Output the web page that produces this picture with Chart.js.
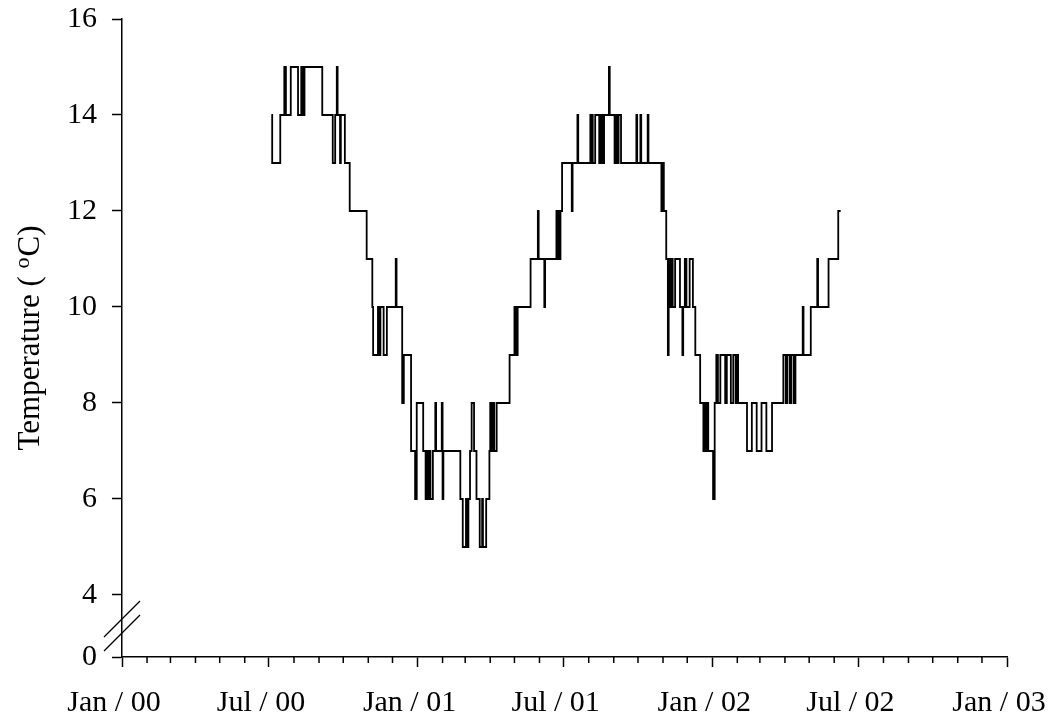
<!DOCTYPE html>
<html>
<head>
<meta charset="utf-8">
<script src="https://cdn.jsdelivr.net/npm/chart.js@4/dist/chart.umd.min.js"></script>
<style>
  body { margin: 0; background: #fff; }
  #wrap { width: 1052px; height: 717px; }
</style>
</head>
<body>
<div id="wrap"><canvas id="grafica-temp"></canvas></div>
<script>
// day (counted from 1 Jan 2000) on which the reading changes, and the reading from then on
const dias = [
  185, 186, 196, 201, 203, 209, 218, 222, 224, 226, 248, 261, 264, 266, 267, 270, 271, 276, 282, 303,
  310, 311, 317, 318, 320, 324, 328, 339, 340, 347, 349, 358, 363, 365, 373, 376, 378, 379, 381, 382,
  385, 388, 389, 396, 397, 398, 419, 422, 426, 427, 429, 431, 433, 436, 439, 443, 446, 447, 451, 455,
  456, 457, 459, 461, 464, 480, 486, 487, 488, 489, 490, 506, 515, 516, 523, 524, 538, 539, 541, 542,
  543, 545, 557, 558, 564, 565, 580, 581, 582, 583, 586, 591, 593, 595, 597, 603, 604, 610, 612, 613,
  615, 618, 637, 638, 642, 643, 651, 652, 668, 669, 671, 674, 676, 677, 679, 680, 682, 685, 691, 694,
  695, 697, 699, 703, 707, 710, 716, 720, 721, 723, 724, 726, 732, 734, 736, 738, 741, 747, 749, 754,
  757, 760, 761, 763, 774, 780, 786, 792, 798, 805, 819, 822, 824, 827, 829, 832, 834, 843, 844, 853,
  861, 862, 875, 887, 890
];
const temps = [
  14, 13, 14, 15, 14, 15, 14, 15, 14, 15, 14, 13, 14, 15, 14, 13, 14, 13, 12, 11,
  10, 9, 10, 9, 10, 9, 10, 11, 10, 8, 9, 7, 6, 8, 7, 6, 7, 6, 7, 6,
  7, 8, 7, 8, 6, 7, 6, 5, 6, 5, 6, 7, 8, 7, 6, 5, 6, 5, 6, 7,
  8, 7, 8, 7, 8, 9, 10, 9, 10, 9, 10, 11, 12, 11, 10, 11, 12, 11, 12, 11,
  12, 13, 12, 13, 14, 13, 14, 13, 14, 13, 14, 13, 14, 13, 14, 15, 14, 13, 14, 13,
  14, 13, 14, 13, 14, 13, 14, 13, 12, 13, 12, 11, 9, 11, 10, 11, 10, 11, 10, 9,
  10, 11, 10, 11, 10, 9, 8, 7, 8, 7, 8, 7, 6, 8, 9, 8, 9, 8, 9, 8,
  9, 8, 9, 8, 7, 8, 7, 8, 7, 8, 9, 8, 9, 8, 9, 8, 9, 10, 9, 10,
  11, 10, 11, 12, 12
];

const etiquetasMes = ['Jan / 00', 'Jul / 00', 'Jan / 01', 'Jul / 01', 'Jan / 02', 'Jul / 02', 'Jan / 03'];
const ticksY = [4, 6, 8, 10, 12, 14, 16];
const baseY = 0;          // shown below the axis break
const minY = 2.7083;      // where the broken axis bottoms out

// first day of every month, Jan 2000 .. Jan 2003
const inicioMes = [];
for (let m = 0; m <= 36; m++) {
  inicioMes.push((Date.UTC(2000, m, 1) - Date.UTC(2000, 0, 1)) / 86400000);
}

const fuente = "'Liberation Serif', 'Times New Roman', serif";
Chart.defaults.font.family = fuente;
Chart.defaults.font.size = 30;
Chart.defaults.color = '#000';

const extras = {
  id: 'extras',
  afterDraw(chart) {
    const { ctx, scales: { x, y } } = chart;
    ctx.save();
    ctx.strokeStyle = '#000';
    ctx.lineWidth = 1.5;

    // minor month ticks
    inicioMes.forEach((d, i) => {
      if (i % 6 === 0) return;
      const px = x.getPixelForValue(d);
      ctx.beginPath();
      ctx.moveTo(px, y.bottom);
      ctx.lineTo(px, y.bottom + 6);
      ctx.stroke();
    });

    // axis break marks
    const y4 = y.getPixelForValue(4);
    ctx.lineWidth = 1.2;
    [24, 38].forEach(off => {
      const cy = y4 + off;
      ctx.beginPath();
      ctx.moveTo(x.left - 18, cy + 18);
      ctx.lineTo(x.left + 18, cy - 18);
      ctx.stroke();
    });

    // y title with superscript o
    ctx.translate(39, (y.top + y.bottom) / 2);
    ctx.rotate(-Math.PI / 2);
    ctx.fillStyle = '#000';
    ctx.textBaseline = 'alphabetic';
    ctx.textAlign = 'left';
    const grande = '31px ' + fuente, chica = '22px ' + fuente;
    ctx.font = grande;
    const w1 = ctx.measureText('Temperature ( ').width;
    const w3 = ctx.measureText('C)').width;
    ctx.font = chica;
    const w2 = ctx.measureText('o').width + 1;
    let sx = -(w1 + w2 + w3) / 2;
    ctx.font = grande;
    ctx.fillText('Temperature ( ', sx, 0);
    sx += w1;
    ctx.font = chica;
    ctx.fillText('o', sx, -10);
    sx += w2;
    ctx.font = grande;
    ctx.fillText('C)', sx, 0);
    ctx.restore();
  }
};

const ctx = document.getElementById('grafica-temp').getContext('2d');
new Chart(ctx, {
  type: 'line',
  data: {
    datasets: [{
      label: 'Temperature',
      data: dias.map((d, i) => ({ x: d, y: temps[i] })),
      borderColor: '#000',
      borderWidth: 1.8,
      stepped: true,
      pointRadius: 0,
      fill: false
    }]
  },
  options: {
    responsive: true,
    maintainAspectRatio: false,
    animation: false,
    layout: { padding: { top: 19, right: 45, bottom: 0, left: 0 } },
    plugins: { legend: { display: false }, tooltip: { enabled: false } },
    scales: {
      x: {
        type: 'linear',
        min: 0,
        max: inicioMes[36],
        afterBuildTicks: s => { s.ticks = inicioMes.map(v => ({ value: v })); },
        afterFit: s => { s.height = 60; s.paddingLeft = 0; s.paddingRight = 0; },
        border: { color: '#000', width: 1.5 },
        grid: {
          drawOnChartArea: false,
          tickLength: 10,
          tickWidth: 1.5,
          tickColor: c => (c.index % 6 === 0 ? '#000' : 'rgba(0,0,0,0)')
        },
        ticks: {
          autoSkip: false,
          maxRotation: 0,
          padding: 18,
          labelOffset: -8,
          callback: (v, i) => (i % 6 === 0 ? etiquetasMes[i / 6] : '')
        }
      },
      y: {
        type: 'linear',
        min: minY,
        max: 16,
        afterBuildTicks: s => { s.ticks = [minY].concat(ticksY).map(v => ({ value: v })); },
        afterFit: s => { s.width = 122; s.paddingTop = 0; s.paddingBottom = 0; },
        border: { color: '#000', width: 1.5 },
        grid: { drawOnChartArea: false, tickLength: 10, tickWidth: 1.5, tickColor: '#000' },
        ticks: {
          padding: 15,
          callback: v => (v < 4 ? String(baseY) : String(v))
        }
      }
    }
  },
  plugins: [extras]
});
</script>
</body>
</html>
